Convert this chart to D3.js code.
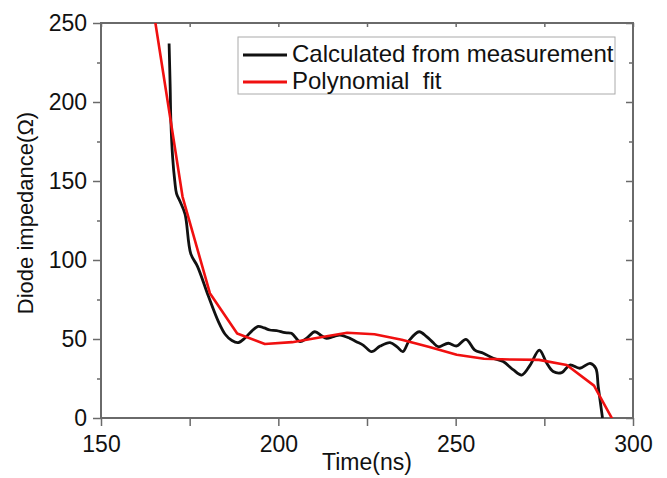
<!DOCTYPE html>
<html lang="en">
<head>
<meta charset="utf-8">
<title>Diode impedance</title>
<script src="https://d3js.org/d3.v7.min.js"></script>
<style>
  body { margin: 0; background: #fff; }
  svg { display: block; }
  text { font-family: "Liberation Sans", Arial, sans-serif; fill: #111; }
</style>
</head>
<body>
<svg width="667" height="478"></svg>
<script>
// measured curve (time ns, impedance ohm)
const measTime = [169.2, 169.5, 169.7, 170.2, 170.8, 171.3, 172.3, 173.7, 175.3, 177.2, 180.3, 183.1, 185, 186.9, 188.7, 190.6, 192.5, 194.3, 196, 197.6, 199.5, 201.9, 203.7, 206.1, 207.9, 210.3, 212.2, 213.6, 215.5, 217.4, 220.2, 222, 224, 226.3, 228.7, 231.5, 233.5, 235.1, 237, 239.7, 241.8, 243.5, 245.1, 247.9, 250.3, 252.9, 255.4, 257.8, 260.6, 263.4, 266.3, 268.6, 271, 273.6, 275.7, 277.5, 279.9, 282.2, 285, 287.9, 289.5, 290.2, 291.4];
const measZ = [237, 210, 188, 165, 150, 142, 137, 129, 104, 96, 77, 61, 53, 49, 47.7, 50.6, 55, 58, 57, 55.7, 55.3, 54, 53.6, 48.3, 50.4, 54.6, 52, 50.4, 51.5, 52.5, 50.4, 48.3, 46, 42, 45.5, 47.7, 45, 42, 49.4, 54.6, 51.5, 48, 45.1, 47.3, 45.6, 49.8, 43, 41, 37.8, 35.7, 30.4, 27.2, 33.5, 43, 34.6, 29.4, 28.7, 33.5, 31.5, 34.6, 31.5, 19.8, 0];

// polynomial fit, sampled coarsely
const fitTime = [165.2, 173, 180.7, 188.4, 196.2, 203.9, 211.6, 219.4, 227.1, 234.8, 242.6, 250.3, 258, 265.8, 273.5, 281.3, 289, 296.7];
const fitZ = [252, 140, 79, 53.5, 46.8, 48, 51, 54, 53, 49.5, 45, 40, 37.5, 37, 36.8, 33.5, 20.5, -11];

const xTicks = [150, 200, 250, 300];
const yTicks = [0, 50, 100, 150, 200, 250];

const svg = d3.select("svg");
const mLeft = 101, mRight = 633, mTop = 23, mBottom = 418;

const x = d3.scaleLinear().domain([150, 300]).range([mLeft, mRight]);
const y = d3.scaleLinear().domain([0, 250]).range([mBottom, mTop]);

svg.append("clipPath").attr("id", "clip")
  .append("rect").attr("x", mLeft).attr("y", mTop)
  .attr("width", mRight - mLeft).attr("height", mBottom - mTop);

const frameCol = "#6a6a6a";

// axes: left/bottom ticks out, top/right ticks in
const minorX = d3.range(150, 301, 25), minorY = d3.range(0, 251, 25);

function styleAxis(g) {
  g.selectAll(".domain").remove();
  g.selectAll(".tick line").attr("stroke", frameCol).attr("stroke-width", 1.5);
  g.selectAll(".tick text").style("font-size", "23px").attr("fill", "#111");
}

svg.append("g").attr("transform", `translate(0,${mBottom})`)
  .call(d3.axisBottom(x).tickValues(minorX).tickSize(8).tickFormat(d => xTicks.includes(d) ? d : ""))
  .call(styleAxis)
  .call(g => g.selectAll(".tick text").attr("dy", "0.95em").attr("y", 12));

svg.append("g").attr("transform", `translate(${mLeft},0)`)
  .call(d3.axisLeft(y).tickValues(minorY).tickFormat(d => yTicks.includes(d) ? d : ""))
  .call(styleAxis)
  .call(g => g.selectAll(".tick line").attr("x2", d => yTicks.includes(d) ? -8 : -4))
  .call(g => g.selectAll(".tick text").attr("x", -14));

svg.append("g").attr("transform", `translate(0,${mTop})`)
  .call(d3.axisBottom(x).tickValues(minorX).tickSize(4).tickFormat(""))
  .call(styleAxis);

svg.append("g").attr("transform", `translate(${mRight},0)`)
  .call(d3.axisLeft(y).tickValues(minorY).tickSize(0).tickFormat(""))
  .call(styleAxis)
  .call(g => g.selectAll(".tick line").attr("x2", d => yTicks.includes(d) ? -7 : -4));

svg.append("rect")
  .attr("x", mLeft).attr("y", mTop)
  .attr("width", mRight - mLeft).attr("height", mBottom - mTop)
  .attr("fill", "none").attr("stroke", frameCol).attr("stroke-width", 2);

// curves
const meas = measTime.map((t, i) => [t, measZ[i]]);
const fit = fitTime.map((t, i) => [t, fitZ[i]]);

const plot = svg.append("g").attr("clip-path", "url(#clip)");

plot.append("path").datum(meas)
  .attr("d", d3.line().x(d => x(d[0])).y(d => y(d[1])).curve(d3.curveCatmullRom.alpha(0.5)))
  .attr("fill", "none").attr("stroke", "#111").attr("stroke-width", 2.8)
  .attr("stroke-linejoin", "round");

plot.append("path").datum(fit)
  .attr("d", d3.line().x(d => x(d[0])).y(d => y(d[1])))
  .attr("fill", "none").attr("stroke", "#f01010").attr("stroke-width", 2.6)
  .attr("stroke-linejoin", "round");

// legend
const lg = svg.append("g");
lg.append("rect").attr("x", 238).attr("y", 37).attr("width", 377).attr("height", 57)
  .attr("fill", "#fff").attr("stroke", "#aaa").attr("stroke-width", 1);
const legendItems = [["Calculated from measurement", "#111"], ["Polynomial  fit", "#f01010"]];
legendItems.forEach(([label, col], i) => {
  const yy = 55 + i * 27;
  lg.append("line").attr("x1", 243).attr("x2", 287).attr("y1", yy).attr("y2", yy)
    .attr("stroke", col).attr("stroke-width", 2.8);
  lg.append("text").attr("x", 292).attr("y", yy + 7)
    .style("font-size", "24px").style("white-space", "pre").text(label);
});

// axis titles
svg.append("text").attr("x", (mLeft + mRight) / 2).attr("y", 470)
  .attr("text-anchor", "middle").style("font-size", "23px").text("Time(ns)");

svg.append("text")
  .attr("transform", `translate(33,213) rotate(-90)`)
  .attr("text-anchor", "middle").style("font-size", "22px").text("Diode impedance(Ω)");
</script>
</body>
</html>
